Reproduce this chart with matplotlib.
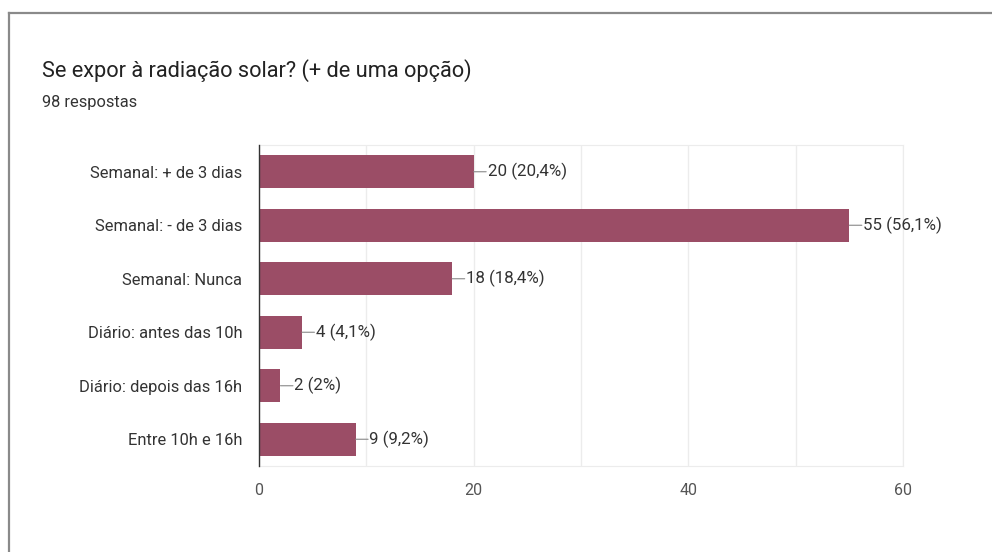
import matplotlib.pyplot as plt
from matplotlib.lines import Line2D

plt.rcParams['font.family'] = ['Roboto', 'DejaVu Sans']

categories = [
    "Semanal: + de 3 dias",
    "Semanal: - de 3 dias",
    "Semanal: Nunca",
    "Diário: antes das 10h",
    "Diário: depois das 16h",
    "Entre 10h e 16h",
]
counts = [20, 55, 18, 4, 2, 9]
percents = ["20,4%", "56,1%", "18,4%", "4,1%", "2%", "9,2%"]
total = 98

bar_color = "#9b4d66"

fig = plt.figure(figsize=(9.92, 5.52), dpi=100)
ax = fig.add_axes([259 / 992, 86 / 552, 644 / 992, 321 / 552])

ypos = list(range(len(categories)))
ax.barh(ypos, counts, height=0.62, color=bar_color, zorder=3)

ax.set_xlim(0, 60)
ax.set_ylim(len(categories) - 0.5, -0.5)
ax.set_xticks([0, 20, 40, 60])
ax.set_xticks(range(0, 61, 10), minor=True)
ax.set_yticks(ypos)
ax.set_yticklabels(categories, fontsize=11.9, color="#333333")
ax.tick_params(axis="x", which="both", length=0, pad=12, labelsize=11.5,
               labelcolor="#555555")
ax.tick_params(axis="y", length=0, pad=12)
ax.grid(axis="x", which="both", color="#ececec", linewidth=1, zorder=0)

for side in ("top", "right", "bottom"):
    ax.spines[side].set_color("#ececec")
ax.spines["left"].set_color("#333333")
ax.spines["left"].set_linewidth(1)
ax.spines["left"].set_zorder(4)

# value labels with a short leader line
for y, c, p in zip(ypos, counts, percents):
    ax.annotate("", xy=(c, y), xytext=(9, 0), textcoords="offset points",
                arrowprops=dict(arrowstyle="-", color="#888888", lw=0.8,
                                shrinkA=0, shrinkB=0))
    ax.annotate(f"{c} ({p})", xy=(c, y), xytext=(10, 0),
                textcoords="offset points", ha="left", va="center",
                fontsize=12.2, color="#333333")

fig.text(42 / 992, 1 - 77 / 552, "Se expor à radiação solar? (+ de uma opção)",
         fontsize=15.7, color="#222222", va="baseline", ha="left")
fig.text(42 / 992, 1 - 107 / 552, f"{total} respostas",
         fontsize=11.8, color="#333333", va="baseline", ha="left")

# outer frame (top and left edges)
fig.add_artist(Line2D([9 / 992, 9 / 992], [0, 1 - 13 / 552],
                      transform=fig.transFigure, color="#8a8a8a", lw=1.6))
fig.add_artist(Line2D([9 / 992, 1], [1 - 13 / 552, 1 - 13 / 552],
                      transform=fig.transFigure, color="#8a8a8a", lw=1.6))

fig.savefig("out.png", dpi=100)
